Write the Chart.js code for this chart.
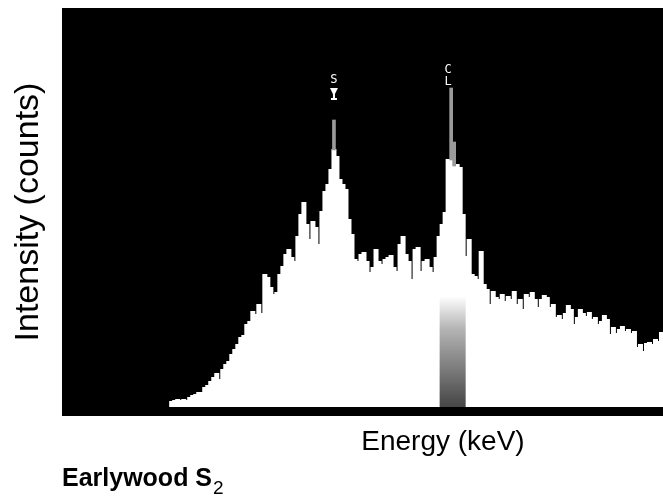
<!DOCTYPE html>
<html>
<head>
<meta charset="utf-8">
<script src="https://cdn.jsdelivr.net/npm/chart.js@4.4.0/dist/chart.umd.min.js"></script>
<style>
  html, body { margin: 0; padding: 0; background: #fff; }
  #wrap { width: 663px; height: 500px; }
</style>
</head>
<body>
<div id="wrap"><canvas id="spectrum"></canvas></div>
<script>
// counts per channel (height above baseline, arbitrary units)
var counts = [
    0, 0, 0, 0, 0, 0, 0, 0, 0, 0, 0, 0, 0, 0, 0, 0, 0, 0,
    0, 0, 0, 0, 0, 0, 0, 0, 0, 0, 0, 0, 0, 0, 0, 0, 0, 0,
    4, 5, 6, 5, 6, 5, 8, 10, 11, 13,
    13, 18, 20, 24, 28, 32, 26, 36, 41, 44,
    51, 56, 61, 68, 70, 81, 84, 94, 91, 101,
    92, 131, 128, 118, 111, 113, 131, 139, 151, 156,
    148, 144, 169, 191, 203, 181, 166, 184, 178, 161,
    194, 214, 221, 236, 256, 249, 226, 221, 216, 186,
    171, 146, 144, 151, 153, 144, 133, 138, 156, 144,
    141, 146, 148, 150, 138, 134, 161, 169, 151, 144,
    126, 156, 158, 134, 144, 146, 138, 133, 148, 169,
    181, 193, 246, 246, 240, 241, 238, 191, 149, 166,
    131, 129, 126, 154, 121, 116, 101, 114, 108, 106,
    111, 104, 109, 106, 114, 101, 106, 96, 111, 108,
    113, 106, 98, 106, 110, 108, 98, 101, 88, 90,
    86, 92, 100, 96, 81, 88, 96, 92, 89, 93,
    86, 88, 81, 84, 90, 86, 71, 78, 72, 76,
    79, 74, 76, 72, 74, 58, 61, 54, 62, 63,
    61, 66, 64, 73
];

// dotted peak tips (low / high of the speckled part above the solid fill)
var tipChannels = [90, 129, 130];
var tipLow = [256, 246, 240];
var tipHigh = [286, 318, 264];

// shaded region-of-interest window under the Cl peak
var roiStart = 126;
var roiLevels = [108, 108, 108, 108, 108, 108, 108, 108];

// element markers
var markerLabels = ['S', 'CL'];
var markerChannels = [90, 128];
var markerLevels = [326, 336];

var channels = counts.map(function (c, i) { return i; });
// empty channels are left out so no hairline is drawn on the baseline
var countData = counts.map(function (c) { return c > 0 ? c : null; });

var tipData = channels.map(function () { return null; });
tipChannels.forEach(function (ch, k) { tipData[ch] = [tipLow[k], tipHigh[k]]; });

var roiData = channels.map(function () { return null; });
roiLevels.forEach(function (v, k) { roiData[roiStart + k] = v; });

var plotBackground = {
    id: 'plotBackground',
    beforeDraw: function (chart) {
        var a = chart.chartArea, ctx = chart.ctx;
        ctx.save();
        ctx.fillStyle = '#000';
        ctx.fillRect(a.left, a.top, a.right - a.left, a.bottom - a.top);
        ctx.restore();
    }
};

var textLayer = {
    id: 'textLayer',
    afterDraw: function (chart) {
        var ctx = chart.ctx;
        var xs = chart.scales.x, ys = chart.scales.y;
        ctx.save();

        // element markers
        ctx.fillStyle = '#fff';
        ctx.font = '12px "DejaVu Sans Mono", monospace';
        ctx.textAlign = 'center';
        ctx.textBaseline = 'middle';
        markerLabels.forEach(function (lab, k) {
            var px = xs.getPixelForValue(markerChannels[k]);
            var py = ys.getPixelForValue(markerLevels[k]);
            for (var j = 0; j < lab.length; j++) {
                ctx.fillText(lab[j], px, py + j * 12);
            }
            if (lab === 'S') {
                var gy = py + 8;
                ctx.beginPath();
                ctx.moveTo(px - 4, gy);
                ctx.lineTo(px + 4, gy);
                ctx.lineTo(px + 1, gy + 6);
                ctx.lineTo(px - 1, gy + 6);
                ctx.closePath();
                ctx.fill();
                ctx.fillRect(px - 1, gy + 6, 2, 4);
                ctx.fillRect(px - 3, gy + 10, 6, 2);
            }
        });

        // axis titles
        ctx.fillStyle = '#000';
        ctx.textAlign = 'center';
        ctx.textBaseline = 'middle';
        ctx.font = '34px "Liberation Sans", Arial, sans-serif';
        ctx.save();
        ctx.translate(29, 212);
        ctx.rotate(-Math.PI / 2);
        ctx.fillText('Intensity (counts)', 0, 0);
        ctx.restore();

        ctx.font = '28px "Liberation Sans", Arial, sans-serif';
        ctx.fillText('Energy (keV)', 443, 442);

        ctx.textAlign = 'left';
        ctx.font = 'bold 25px "Liberation Sans", Arial, sans-serif';
        ctx.fillText('Earlywood S', 62, 479);
        var w = ctx.measureText('Earlywood S').width;
        ctx.font = '19px "Liberation Sans", Arial, sans-serif';
        ctx.fillText('2', 62 + w + 1, 489);
        ctx.restore();
    }
};

var ctx = document.getElementById('spectrum').getContext('2d');

var spectrumChart = new Chart(ctx, {
    type: 'bar',
    data: {
        labels: channels,
        datasets: [{
            label: 'ROI',
            data: roiData,
            order: 0,
            grouped: false,
            barPercentage: 1,
            categoryPercentage: 1,
            borderWidth: 0,
            inflateAmount: 1,
            backgroundColor: function (c) {
                var chart = c.chart;
                if (!chart.chartArea) return '#777';
                var ys = chart.scales.y;
                var g = chart.ctx.createLinearGradient(0, ys.getPixelForValue(110), 0, ys.getPixelForValue(0));
                g.addColorStop(0, '#ffffff');
                g.addColorStop(0.3, '#b4b4b4');
                g.addColorStop(1, '#474747');
                return g;
            }
        }, {
            label: 'Tips',
            data: tipData,
            order: 1,
            grouped: false,
            barPercentage: 1,
            categoryPercentage: 1,
            borderWidth: 0,
            backgroundColor: '#9a9a9a'
        }, {
            label: 'Counts',
            data: countData,
            order: 2,
            grouped: false,
            barPercentage: 1,
            categoryPercentage: 1,
            borderWidth: 0,
            inflateAmount: 1,
            backgroundColor: '#ffffff'
        }]
    },
    options: {
        responsive: true,
        maintainAspectRatio: false,
        animation: false,
        layout: { padding: { left: 62, top: 8, right: 0, bottom: 84 } },
        plugins: {
            legend: { display: false },
            tooltip: { enabled: false }
        },
        scales: {
            x: { display: false, offset: true },
            y: { display: false, min: -10, max: 398 }
        }
    },
    plugins: [plotBackground, textLayer]
});
</script>
</body>
</html>
